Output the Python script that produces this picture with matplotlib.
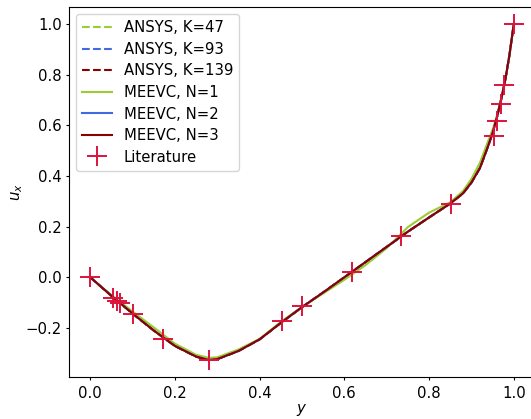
# cavity_profile.py

import matplotlib
matplotlib.use("Agg")

import matplotlib.pyplot as plt


# =========================================
# Data : u_x along the vertical centreline
# =========================================

y_curve = [
    0.00, 0.05, 0.10, 0.15, 0.20, 0.25, 0.28, 0.30, 0.35, 0.40,
    0.45, 0.50, 0.55, 0.60, 0.65, 0.70, 0.75, 0.80, 0.85, 0.88,
    0.90, 0.92, 0.94, 0.95, 0.96, 0.97, 0.98, 0.99, 1.00
]

# ANSYS runs
ansys_k47 = [
    0.000, -0.074, -0.144, -0.211, -0.272, -0.314, -0.326, -0.323, -0.291, -0.246,
    -0.181, -0.119, -0.061, -0.002, 0.058, 0.119, 0.180, 0.236, 0.290, 0.330,
    0.372, 0.432, 0.522, 0.570, 0.630, 0.700, 0.780, 0.880, 1.000
]

ansys_k93 = [
    0.000, -0.073, -0.143, -0.210, -0.271, -0.313, -0.327, -0.323, -0.291, -0.245,
    -0.180, -0.118, -0.060, 0.000, 0.060, 0.120, 0.180, 0.236, 0.291, 0.331,
    0.374, 0.431, 0.521, 0.570, 0.630, 0.701, 0.780, 0.880, 1.000
]

ansys_k139 = [
    0.000, -0.073, -0.143, -0.210, -0.271, -0.313, -0.327, -0.323, -0.291, -0.245,
    -0.180, -0.118, -0.060, 0.000, 0.060, 0.120, 0.180, 0.236, 0.291, 0.331,
    0.374, 0.431, 0.521, 0.570, 0.630, 0.701, 0.780, 0.880, 1.000
]

# MEEVC runs
meevc_n1 = [
    0.000, -0.070, -0.135, -0.198, -0.262, -0.306, -0.318, -0.316, -0.285, -0.243,
    -0.176, -0.117, -0.064, -0.010, 0.048, 0.115, 0.198, 0.255, 0.296, 0.340,
    0.388, 0.452, 0.540, 0.582, 0.636, 0.703, 0.780, 0.880, 1.000
]

meevc_n2 = [
    0.000, -0.073, -0.143, -0.210, -0.271, -0.313, -0.327, -0.323, -0.291, -0.245,
    -0.180, -0.118, -0.060, 0.000, 0.060, 0.120, 0.180, 0.236, 0.291, 0.331,
    0.374, 0.431, 0.521, 0.570, 0.630, 0.701, 0.780, 0.880, 1.000
]

meevc_n3 = [
    0.000, -0.073, -0.143, -0.210, -0.271, -0.313, -0.327, -0.323, -0.291, -0.245,
    -0.180, -0.118, -0.060, 0.000, 0.060, 0.120, 0.180, 0.236, 0.291, 0.331,
    0.374, 0.431, 0.521, 0.570, 0.630, 0.701, 0.780, 0.880, 1.000
]

# Reference points (Ghia et al., Re = 400)
y_lit = [
    1.0000, 0.9766, 0.9688, 0.9609, 0.9531, 0.8516, 0.7344, 0.6172,
    0.5000, 0.4531, 0.2813, 0.1719, 0.1016, 0.0703, 0.0625, 0.0547, 0.0000
]

u_lit = [
    1.00000, 0.75837, 0.68439, 0.61756, 0.55892, 0.29093, 0.16256, 0.02135,
    -0.11477, -0.17119, -0.32726, -0.24299, -0.14612, -0.10338, -0.09266, -0.08186, 0.00000
]


# =========================================
# Figure
# =========================================

plt.rcParams["font.size"] = 10.7

fig = plt.figure(figsize=(5.31, 4.19), dpi=100)

ax = fig.add_axes([69 / 531, 42 / 419, 466 / 531, 370 / 419])


# =========================================
# Curves
# =========================================

ax.plot(y_curve, ansys_k47, "--", color="yellowgreen", lw=1.5, label="ANSYS, K=47")

ax.plot(y_curve, ansys_k93, "--", color="royalblue", lw=1.5, label="ANSYS, K=93")

ax.plot(y_curve, ansys_k139, "--", color="darkred", lw=1.5, label="ANSYS, K=139")

ax.plot(y_curve, meevc_n1, "-", color="yellowgreen", lw=1.5, label="MEEVC, N=1")

ax.plot(y_curve, meevc_n2, "-", color="royalblue", lw=1.5, label="MEEVC, N=2")

ax.plot(y_curve, meevc_n3, "-", color="darkred", lw=1.5, label="MEEVC, N=3")

ax.plot(
    y_lit,
    u_lit,
    "+",
    color="crimson",
    ms=15,
    mew=1.4,
    label="Literature"
)


# =========================================
# Ticks / Labels / Legend
# =========================================

ax.tick_params(axis="x", length=2.2, pad=4.3)

ax.tick_params(axis="y", length=2.2, pad=3.0)

ax.set_xlabel("$y$", labelpad=0.9)

ax.set_ylabel("$u_x$", labelpad=0.2)

ax.legend(loc="upper left", labelspacing=0.44)


# =========================================
# Save
# =========================================

fig.savefig("out.png", dpi=100)
